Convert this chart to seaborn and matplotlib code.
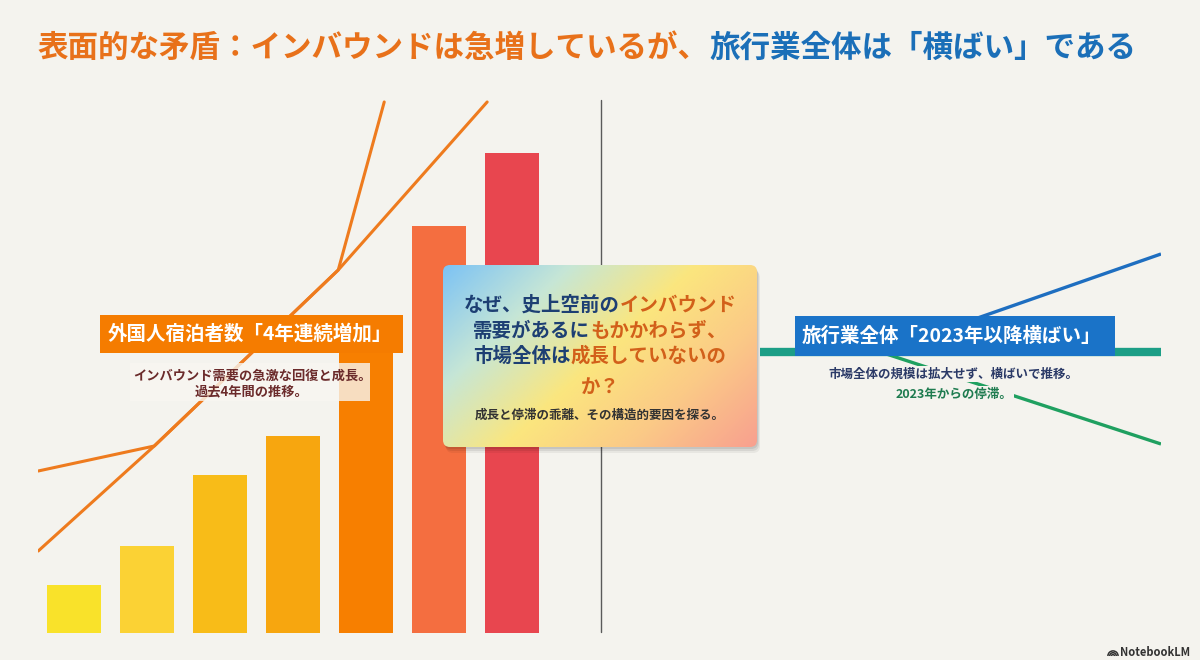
import numpy as np
import pandas as pd
import seaborn as sns
import matplotlib.pyplot as plt
from matplotlib.patches import Rectangle, FancyBboxPatch, Arc
from matplotlib.colors import LinearSegmentedColormap

# ---- data ----
bar_ids = ['1', '2', '3', '4', '5', '6', '7']
guests = [48, 87, 158, 197, 293, 407, 480]
bar_colors = ['#F9E22A', '#FBD234', '#F8BC18', '#F7A60F', '#F77F00', '#F46E40', '#E8464F']

# two orange trend lines over the bars (x in bar positions)
line_a_x = [-0.49, 1.10, 3.62, 4.25]
line_a_y = [162, 187, 363, 531]
line_b_x = [-0.49, 1.10, 3.62, 5.66]
line_b_y = [82, 187, 363, 531]

# right side fan: flat, up, down
flat_x = [0, 1]
flat_y = [281, 281]
up_x = [0.30, 1]
up_y = [281, 379]
down_x = [0.30, 1]
down_y = [281, 189]

title_parts = [("表面的な矛盾：インバウンドは急増しているが、", '#E8711A'),
               ("旅行業全体は「横ばい」である", '#1B6FB8')]
left_label = "外国人宿泊者数「4年連続増加」"
left_sub = ["インバウンド需要の急激な回復と成長。", "過去4年間の推移。"]
right_label = "旅行業全体「2023年以降横ばい」"
right_sub = ["市場全体の規模は拡大せず、横ばいで推移。", "2023年からの停滞。"]

NAVY = '#1D3F73'
ORG = '#D2601A'
center_lines = [
    [("なぜ、史上空前の", NAVY), ("インバウンド", ORG)],
    [("需要があるに", NAVY), ("もかかわらず、", ORG)],
    [("市場全体は", NAVY), ("成長していないの", ORG)],
    [("か？", ORG)],
]
center_sub = "成長と停滞の乖離、その構造的要因を探る。"

BG = '#F4F3EE'

sns.set_style('white')
plt.rcParams['font.family'] = ['Noto Sans CJK JP', 'DejaVu Sans']

fig = plt.figure(figsize=(12, 6.6), dpi=100)
fig.patch.set_facecolor(BG)

# ---- left: bars ----
ax = fig.add_axes([0.03125, 0.0409, 0.4319, 0.8152])
df = pd.DataFrame({'bar': bar_ids, 'value': guests})
sns.barplot(data=df, x='bar', y='value', hue='bar', palette=bar_colors,
            legend=False, width=0.73, saturation=1, linewidth=0, ax=ax, zorder=2)
ax.plot(line_a_x, line_a_y, color='#EE7B1E', lw=2.2, zorder=3, solid_capstyle='round')
ax.plot(line_b_x, line_b_y, color='#EE7B1E', lw=2.2, zorder=3, solid_capstyle='round')
ax.set_xlim(-0.5, 6.6)
ax.set_ylim(0, 538)
ax.axis('off')

# ---- right: flat trend fan ----
axr = fig.add_axes([0.6333, 0.0409, 0.3342, 0.8152])
axr.plot(up_x, up_y, color='#1E6EC0', lw=2.4, solid_capstyle='butt')
axr.plot(down_x, down_y, color='#1FA060', lw=2.4, solid_capstyle='butt')
axr.plot(flat_x, flat_y, color='#1C9E86', lw=6, solid_capstyle='butt')
axr.set_xlim(0, 1)
axr.set_ylim(0, 538)
axr.axis('off')

# ---- overlay in pixel coordinates ----
ov = fig.add_axes([0, 0, 1, 1])
ov.set_xlim(0, 1200)
ov.set_ylim(660, 0)
ov.axis('off')
renderer = fig.canvas.get_renderer()


def parts_line(cx, y, parts, size, left=None, z=7):
    texts = [ov.text(0, y, s, color=c, fontsize=size, fontweight='bold',
                     ha='left', va='center', zorder=z) for s, c in parts]
    widths = [t.get_window_extent(renderer).width for t in texts]
    x = left if left is not None else cx - sum(widths) / 2
    for t, w in zip(texts, widths):
        t.set_x(x)
        x += w


# title
parts_line(0, 48, title_parts, 22, left=38)

# divider
ov.plot([601, 601], [100, 632], color='#5A5A5A', lw=1, zorder=1)

# left label
ov.add_patch(Rectangle((100, 315), 303, 38, facecolor='#F57C00', edgecolor='none', zorder=5))
ov.text(250, 334, left_label, color='white', fontsize=14, fontweight='bold',
        ha='center', va='center', zorder=6)
ov.add_patch(Rectangle((130, 363), 240, 38, facecolor='#F8F6F1', alpha=0.8,
                       edgecolor='none', zorder=5))
ov.text(252, 376, left_sub[0], color='#6B2B2B', fontsize=9.5, fontweight='bold',
        ha='center', va='center', zorder=6)
ov.text(252, 391, left_sub[1], color='#6B2B2B', fontsize=9.5, fontweight='bold',
        ha='center', va='center', zorder=6)

# right label
ov.add_patch(Rectangle((795, 316), 320, 40, facecolor='#1A73C8', edgecolor='none', zorder=5))
ov.text(951, 336, right_label, color='white', fontsize=14, fontweight='bold',
        ha='center', va='center', zorder=6)
ov.text(953, 374, right_sub[0], color='#2B3A67', fontsize=9, fontweight='bold',
        ha='center', va='center', zorder=6,
        bbox=dict(boxstyle='square,pad=0.15', fc=BG, ec='none'))
ov.text(954, 394, right_sub[1], color='#1E7B4F', fontsize=9, fontweight='bold',
        ha='center', va='center', zorder=6,
        bbox=dict(boxstyle='square,pad=0.15', fc=BG, ec='none'))

# center question box
bx, by, bw, bh = 443, 265, 314, 182
for off, a in [(6, 0.05), (4, 0.07), (2, 0.08)]:
    ov.add_patch(FancyBboxPatch((bx + off / 2, by + off), bw, bh,
                                boxstyle='round,pad=0,rounding_size=7',
                                facecolor='black', alpha=a, edgecolor='none', zorder=3))
box = FancyBboxPatch((bx, by), bw, bh, boxstyle='round,pad=0,rounding_size=7',
                     facecolor='none', edgecolor='none', zorder=4)
ov.add_patch(box)
cmap = LinearSegmentedColormap.from_list(
    'q', [(0, '#7DC3F4'), (0.25, '#C6E6D6'), (0.5, '#FBE67E'), (0.75, '#FBC987'), (1, '#F8A08F')])
u, v = np.meshgrid(np.linspace(0, 1, 200), np.linspace(0, 1, 120))
grad = cmap(0.62 * u + 0.38 * v)
im = ov.imshow(grad, extent=(bx, bx + bw, by + bh, by), aspect='auto', zorder=4)
im.set_clip_path(box)
ov.set_xlim(0, 1200)
ov.set_ylim(660, 0)

for y, parts in zip([305, 331, 356, 387], center_lines):
    parts_line(600, y, parts, 14)
ov.text(600, 415, center_sub, color='#333333', fontsize=9, fontweight='bold',
        ha='center', va='center', zorder=7)

# NotebookLM mark
for r in [1.5, 3.3, 5.1]:
    ov.add_patch(Arc((1113, 656), 2 * r, 2 * r, theta1=180, theta2=360,
                     color='#333333', lw=1.1, zorder=7))
ov.text(1190, 652, "NotebookLM", color='#333333', fontsize=8, fontweight='bold',
        ha='right', va='center', zorder=7)

fig.savefig('out.png', dpi=100, facecolor=BG)
